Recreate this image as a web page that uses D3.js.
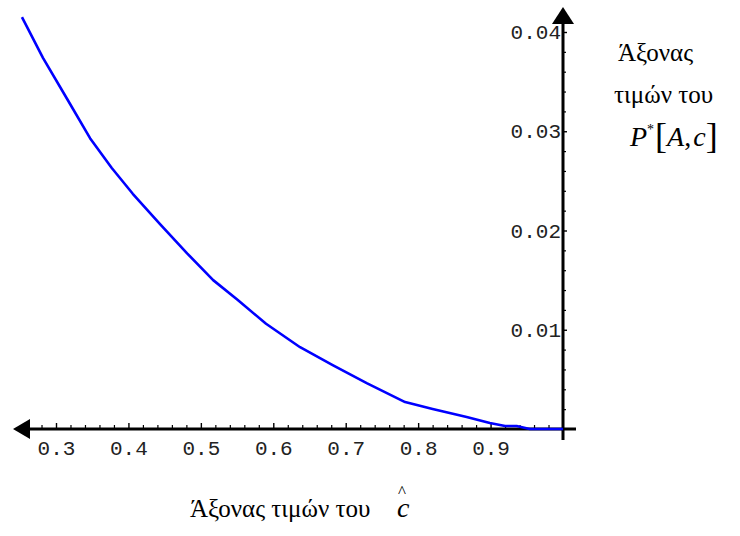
<!DOCTYPE html>
<html>
<head>
<meta charset="utf-8">
<script src="https://cdn.jsdelivr.net/npm/d3@7"></script>
<style>
  body { margin: 0; background: #fff; }
  svg { display: block; }
  .tick text { font-family: "Liberation Mono", "DejaVu Sans Mono", monospace; font-size: 21px; fill: #222; }
  .lbl { font-family: "Liberation Serif", "Times New Roman", serif; font-size: 25px; fill: #000; }
</style>
</head>
<body>
<div id="chart"></div>
<script>
// values
var cValues = [0.253, 0.282, 0.315, 0.347, 0.377, 0.406, 0.443, 0.481, 0.517, 0.551, 0.59, 0.637, 0.682, 0.729, 0.782, 0.820, 0.867, 0.899, 0.920, 0.936, 0.954, 1.0];
var pValues = [0.0415, 0.0374, 0.0333, 0.0293, 0.0263, 0.0237, 0.0207, 0.0177, 0.0150, 0.0130, 0.0106, 0.00824, 0.00643, 0.00462, 0.00271, 0.00201, 0.00121, 0.0006, 0.0003, 0.0003, 0, 0];
var xTicks = [0.3, 0.4, 0.5, 0.6, 0.7, 0.8, 0.9];
var yTicks = [0.01, 0.02, 0.03, 0.04];

var width = 740, height = 536;

var svg = d3.select("#chart").append("svg")
  .attr("width", width)
  .attr("height", height);

/* scales */
var x = d3.scaleLinear().domain([0.3, 1]).range([56, 563]);
var y = d3.scaleLinear().domain([0, 0.04]).range([429, 32]);

var data = cValues.map((c, i) => ({c: c, p: pValues[i]}));

/* minor ticks */
var xMinor = d3.range(0.26, 1.0001, 0.02).filter(v => Math.abs(v * 10 - Math.round(v * 10)) > 0.01);
var yMinor = d3.range(0.002, 0.0421, 0.002).filter(v => Math.abs(v * 100 - Math.round(v * 100)) > 0.01);

svg.append("g")
  .attr("transform", `translate(0, ${y(0)})`)
  .call(d3.axisBottom(x).tickValues(xMinor).tickSize(-4).tickFormat(""))
  .call(g => g.select(".domain").remove())
  .selectAll("line").attr("stroke", "#000").attr("stroke-width", 1.2);

svg.append("g")
  .attr("transform", `translate(0, ${y(0)})`)
  .call(d3.axisBottom(x).tickValues(xTicks).tickSize(-6).tickPadding(8).tickFormat(d3.format(".1f")))
  .call(g => g.select(".domain").remove())
  .call(g => g.selectAll("line").attr("stroke", "#000").attr("stroke-width", 1.4))
  .call(g => g.selectAll("text").attr("dy", "0.85em"));

svg.append("g")
  .attr("transform", `translate(${x(1)}, 0)`)
  .call(d3.axisLeft(y).tickValues(yMinor).tickSize(-3).tickFormat(""))
  .call(g => g.select(".domain").remove())
  .selectAll("line").attr("stroke", "#000").attr("stroke-width", 1.2);

svg.append("g")
  .attr("transform", `translate(${x(1)}, 0)`)
  .call(d3.axisLeft(y).tickValues(yTicks).tickSize(-4).tickPadding(2).tickFormat(d3.format(".2f")))
  .call(g => g.select(".domain").remove())
  .call(g => g.selectAll("line").attr("stroke", "#000").attr("stroke-width", 1.4));

/* axis lines with arrows */
svg.append("line")
  .attr("x1", 28).attr("x2", x(1) + 13)
  .attr("y1", y(0)).attr("y2", y(0))
  .attr("stroke", "#000").attr("stroke-width", 3);
svg.append("path")
  .attr("d", `M13,${y(0)} L30,${y(0) - 10} L30,${y(0) + 10} Z`)
  .attr("fill", "#000");

svg.append("line")
  .attr("x1", x(1)).attr("x2", x(1))
  .attr("y1", 22).attr("y2", y(0) + 11)
  .attr("stroke", "#000").attr("stroke-width", 3);
svg.append("path")
  .attr("d", `M${x(1)},7 L${x(1) - 11},24 L${x(1) + 11},24 Z`)
  .attr("fill", "#000");

/* curve */
var line = d3.line()
  .x(d => x(d.c))
  .y(d => y(d.p));

svg.append("path")
  .datum(data)
  .attr("d", line)
  .attr("fill", "none")
  .attr("stroke", "#0000ff")
  .attr("stroke-width", 2.6)
  .attr("stroke-linejoin", "round");

/* labels */
svg.append("text").attr("class", "lbl").attr("x", 618).attr("y", 61).text("Άξονας");
svg.append("text").attr("class", "lbl").attr("x", 614).attr("y", 103).text("τιμών του");

var p = svg.append("text").attr("class", "lbl").attr("x", 630).attr("y", 146);
p.append("tspan").attr("font-style", "italic").attr("font-size", 28).text("P");
p.append("tspan").attr("font-size", 14).attr("dy", -12).text("*");
p.append("tspan").attr("font-size", 36).attr("dy", 14).attr("dx", 1).text("[");
p.append("tspan").attr("font-style", "italic").attr("font-size", 28).attr("dy", -2).text("A");
p.append("tspan").attr("font-size", 28).text(",");
p.append("tspan").attr("font-style", "italic").attr("font-size", 28).attr("dx", 2).text("c");
p.append("tspan").attr("font-size", 36).attr("dy", 2).text("]");

var b = svg.append("text").attr("class", "lbl").attr("x", 190).attr("y", 517);
b.append("tspan").text("Άξονας τιμών του");
b.append("tspan").attr("x", 397).attr("font-style", "italic").attr("font-size", 28).text("c");
b.append("tspan").attr("x", 398).attr("y", 497).attr("font-size", 17).text("^");
</script>
</body>
</html>
